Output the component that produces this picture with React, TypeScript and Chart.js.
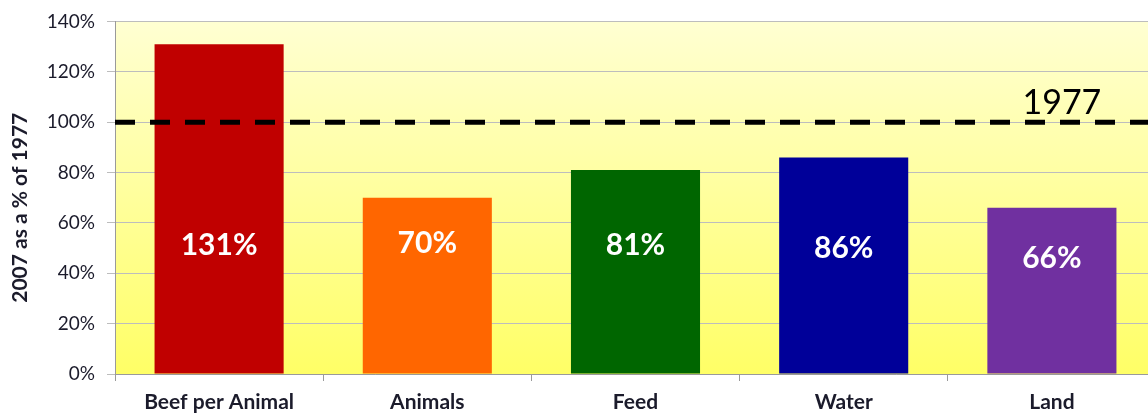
import React, { useEffect, useRef } from "react";
import { Chart, registerables } from "chart.js";

Chart.register(...registerables);

const categories = ["Beef per Animal", "Animals", "Feed", "Water", "Land"];
const values = [131, 70, 81, 86, 66];
const valueLabels = ["131%", "70%", "81%", "86%", "66%"];
const labelAt = [51, 52, 51, 50, 46];
const barColors = ["#C00000", "#FF6600", "#006600", "#000099", "#7030A0"];
const referenceValue = 100;
const referenceLabel = "1977";
const yTitle = "2007 as a % of 1977";

const FONT = "Lato, 'Open Sans', sans-serif";

export default function App() {
  const ref = useRef<HTMLCanvasElement>(null);
  useEffect(() => {
    const canvas = ref.current!;
    const bgPlugin = {
      id: "bg",
      beforeDraw(chart: any) {
        const { ctx, chartArea } = chart;
        const g = ctx.createLinearGradient(0, chartArea.top, 0, chartArea.bottom);
        g.addColorStop(0, "#FFFFD2");
        g.addColorStop(1, "#FFFF66");
        ctx.save();
        ctx.fillStyle = g;
        ctx.fillRect(chartArea.left, chartArea.top, chartArea.right - chartArea.left, chartArea.bottom - chartArea.top);
        ctx.restore();
      },
      afterDraw(chart: any) {
        const { ctx, chartArea } = chart;
        ctx.save();
        ctx.fillStyle = "#1b1b2b";
        ctx.font = `bold 21px ${FONT}`;
        ctx.textAlign = "center";
        ctx.textBaseline = "middle";
        ctx.translate(20, (chartArea.top + chartArea.bottom) / 2 + 10);
        ctx.rotate(-Math.PI / 2);
        ctx.fillText(yTitle, 0, 0);
        ctx.restore();
      },
    };
    const overlay = {
      id: "overlay",
      afterDatasetsDraw(chart: any) {
        const { ctx, chartArea } = chart;
        const ys = chart.scales.y;
        const meta = chart.getDatasetMeta(0);
        ctx.save();
        ctx.fillStyle = "#ffffff";
        ctx.font = `bold 30px ${FONT}`;
        ctx.textAlign = "center";
        ctx.textBaseline = "middle";
        meta.data.forEach((bar: any, i: number) => {
          ctx.fillText(valueLabels[i], bar.x, ys.getPixelForValue(labelAt[i]));
        });
        const y = ys.getPixelForValue(referenceValue);
        ctx.strokeStyle = "#000000";
        ctx.lineWidth = 5;
        ctx.setLineDash([20, 15]);
        ctx.beginPath();
        ctx.moveTo(chartArea.left, y);
        ctx.lineTo(chartArea.right, y);
        ctx.stroke();
        ctx.setLineDash([]);
        ctx.fillStyle = "#000000";
        ctx.font = `34px ${FONT}`;
        ctx.textAlign = "center";
        ctx.textBaseline = "alphabetic";
        const xs = chart.scales.x;
        ctx.fillText(referenceLabel, xs.getPixelForValue(4) + 10, y - 8);
        ctx.restore();
      },
    };
    const chart = new Chart(canvas, {
      type: "bar",
      data: {
        labels: categories,
        datasets: [
          {
            data: values,
            backgroundColor: barColors,
            barPercentage: 0.62,
            categoryPercentage: 1,
          },
        ],
      },
      options: {
        responsive: false,
        animation: false,
        devicePixelRatio: 1,
        layout: { padding: { top: 19, left: 0, right: 0, bottom: 0 } },
        plugins: { legend: { display: false }, tooltip: { enabled: false } },
        scales: {
          x: {
            offset: true,
            grid: { offset: true, drawOnChartArea: false, drawTicks: true, tickLength: 7, color: "#9a9a9a" },
            border: { color: "#9a9a9a" },
            ticks: { color: "#1b1b2b", font: { family: FONT, size: 21, weight: "bold" }, padding: 9, maxRotation: 0 },
            afterFit(s: any) {
              s.height = 42;
            },
          },
          y: {
            min: 0,
            max: 140,
            ticks: {
              stepSize: 20,
              callback: (v: any) => v + "%",
              color: "#1b1b2b",
              font: { family: FONT, size: 19, lineHeight: 1 },
              padding: 12,
            },
            grid: { color: "#bdbdbd", tickLength: 8 },
            border: { color: "#9a9a9a" },
            afterFit(s: any) {
              s.width = 115;
            },
          },
        },
      },
      plugins: [bgPlugin, overlay],
    });
    return () => chart.destroy();
  }, []);
  return (
    <div style={{ position: "fixed", left: 0, top: 0, width: 1148, height: 416, overflow: "hidden", background: "#fff" }}>
      <canvas ref={ref} width={1156} height={416} style={{ display: "block" }} />
    </div>
  );
}
